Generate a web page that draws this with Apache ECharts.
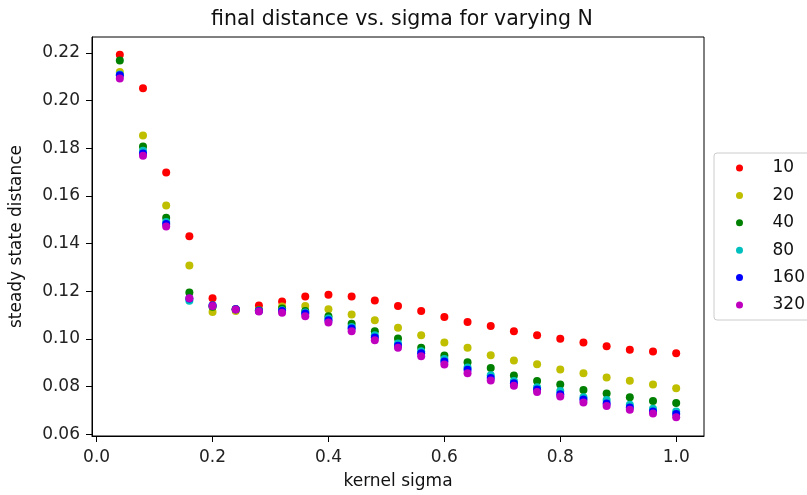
<!DOCTYPE html>
<html>
<head>
<meta charset="utf-8">
<script src="https://cdn.jsdelivr.net/npm/echarts@6/dist/echarts.min.js"></script>
<style>html,body{margin:0;padding:0;background:#fff}#c{width:807px;height:495px}</style>
</head>
<body>
<div id="c"></div>
<script>
var sigma = [0.04, 0.08, 0.12, 0.16, 0.20, 0.24, 0.28, 0.32, 0.36, 0.40, 0.44, 0.48, 0.52, 0.56, 0.60, 0.64, 0.68, 0.72, 0.76, 0.80, 0.84, 0.88, 0.92, 0.96, 1.00];
var n10  = [0.2193, 0.2052, 0.1698, 0.1431, 0.1170, 0.1124, 0.1140, 0.1157, 0.1178, 0.1185, 0.1178, 0.1161, 0.1138, 0.1117, 0.1092, 0.1071, 0.1054, 0.1032, 0.1015, 0.1000, 0.0985, 0.0969, 0.0954, 0.0947, 0.0939];
var n20  = [0.2120, 0.1853, 0.1560, 0.1308, 0.1113, 0.1117, 0.1120, 0.1136, 0.1138, 0.1124, 0.1102, 0.1078, 0.1046, 0.1015, 0.0985, 0.0962, 0.0931, 0.0909, 0.0893, 0.0871, 0.0855, 0.0838, 0.0824, 0.0808, 0.0792];
var n40  = [0.2168, 0.1807, 0.1508, 0.1194, 0.1135, 0.1124, 0.1120, 0.1127, 0.1117, 0.1095, 0.1063, 0.1032, 0.1001, 0.0962, 0.0930, 0.0902, 0.0877, 0.0846, 0.0823, 0.0808, 0.0785, 0.0770, 0.0755, 0.0739, 0.0731];
var n80  = [0.2110, 0.1790, 0.1490, 0.1160, 0.1140, 0.1124, 0.1118, 0.1120, 0.1110, 0.1085, 0.1050, 0.1015, 0.0980, 0.0948, 0.0915, 0.0880, 0.0847, 0.0823, 0.0797, 0.0781, 0.0755, 0.0743, 0.0723, 0.0706, 0.0695];
var n160 = [0.2106, 0.1778, 0.1482, 0.1169, 0.1140, 0.1124, 0.1117, 0.1117, 0.1106, 0.1078, 0.1043, 0.1006, 0.0971, 0.0939, 0.0905, 0.0870, 0.0836, 0.0813, 0.0787, 0.0767, 0.0745, 0.0728, 0.0712, 0.0695, 0.0684];
var n320 = [0.2093, 0.1768, 0.1471, 0.1170, 0.1138, 0.1123, 0.1115, 0.1109, 0.1095, 0.1068, 0.1032, 0.0994, 0.0962, 0.0927, 0.0892, 0.0855, 0.0825, 0.0803, 0.0777, 0.0758, 0.0733, 0.0718, 0.0702, 0.0686, 0.0671];
var seriesNames = ['10', '20', '40', '80', '160', '320'];
var seriesValues = [n10, n20, n40, n80, n160, n320];
var seriesColors = ['#ff0000', '#bfbf00', '#008000', '#00bfbf', '#0000ff', '#bf00bf'];
var xTicks = [0.0, 0.2, 0.4, 0.6, 0.8, 1.0];
var yTicks = [0.06, 0.08, 0.10, 0.12, 0.14, 0.16, 0.18, 0.20, 0.22];

var FONT = 'DejaVu Sans';
var chart = echarts.init(document.getElementById('c'), null, {renderer: 'canvas'});

var series = seriesNames.map(function (name, i) {
  return {
    name: name,
    type: 'scatter',
    symbol: 'circle',
    symbolSize: 8,
    itemStyle: {color: seriesColors[i], opacity: 1},
    data: sigma.map(function (s, j) { return [s, seriesValues[i][j]]; }),
    emphasis: {disabled: true},
    animation: false
  };
});

chart.setOption({
  animation: false,
  backgroundColor: '#fff',
  title: {
    text: 'final distance vs. sigma for varying N',
    left: 397, top: 4, textAlign: 'center',
    textStyle: {fontFamily: FONT, fontSize: 20.5, fontWeight: 'normal', color: '#111'}
  },
  grid: {
    left: 91, top: 37, width: 613, height: 401,
    show: true, borderColor: '#000', borderWidth: 1, backgroundColor: 'transparent'
  },
  legend: {
    orient: 'vertical',
    left: 714, top: 153,
    padding: [5, 40, 5, 22],
    itemWidth: 20, itemHeight: 7, itemGap: 7.4,
    icon: 'circle',
    backgroundColor: '#fff',
    borderColor: '#ccc', borderWidth: 1, borderRadius: 3,
    textStyle: {fontFamily: FONT, fontSize: 17, color: '#111', lineHeight: 20, padding: [0, 0, 0, 18]},
    data: seriesNames
  },
  xAxis: {
    type: 'value', min: -0.008, max: 1.048,
    name: 'kernel sigma', nameLocation: 'middle', nameGap: 37,
    nameTextStyle: {fontFamily: FONT, fontSize: 17, color: '#111'},
    axisLine: {show: true, onZero: false, lineStyle: {color: '#000', width: 1}},
    axisTick: {show: true, length: 6, customValues: xTicks, lineStyle: {color: '#000'}},
    axisLabel: {customValues: xTicks, margin: 13, fontFamily: FONT, fontSize: 17, color: '#222',
      formatter: function (v) { return v.toFixed(1); }},
    splitLine: {show: false}
  },
  yAxis: {
    type: 'value', min: 0.0592, max: 0.2267,
    name: 'steady state distance', nameLocation: 'middle', nameGap: 67, nameRotate: 90,
    nameTextStyle: {fontFamily: FONT, fontSize: 17, color: '#111'},
    axisLine: {show: true, onZero: false, lineStyle: {color: '#000', width: 1}},
    axisTick: {show: true, length: 6, customValues: yTicks, lineStyle: {color: '#000'}},
    axisLabel: {customValues: yTicks, margin: 12, fontFamily: FONT, fontSize: 17, color: '#222',
      formatter: function (v) { return v.toFixed(2); }},
    splitLine: {show: false}
  },
  series: series
});
</script>
</body>
</html>
